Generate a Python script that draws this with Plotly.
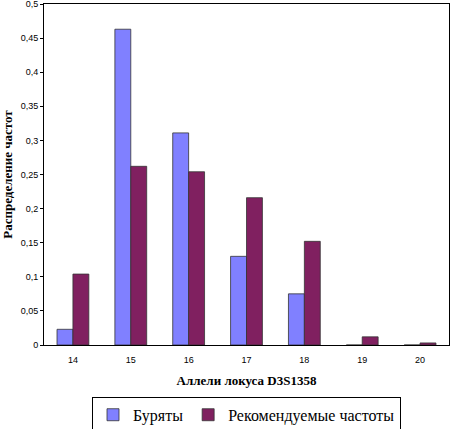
import plotly.graph_objects as go

categories = ["14", "15", "16", "17", "18", "19", "20"]
buryats = [0.023, 0.463, 0.311, 0.130, 0.075, 0, 0]
recommended = [0.104, 0.262, 0.254, 0.216, 0.152, 0.012, 0.003]
y_ticks = [0, 0.05, 0.1, 0.15, 0.2, 0.25, 0.3, 0.35, 0.4, 0.45, 0.5]
y_tick_labels = ["0", "0,05", "0,1", "0,15", "0,2", "0,25", "0,3", "0,35", "0,4", "0,45", "0,5"]

SERIF = "'Times New Roman', 'Liberation Serif', 'DejaVu Serif', serif"
SANS = "Arial, 'Liberation Sans', sans-serif"

fig = go.Figure()
fig.add_trace(go.Bar(x=categories, y=buryats, name="Буряты",
                     marker=dict(color="#8080FF", line=dict(color="#333333", width=0.8))))
fig.add_trace(go.Bar(x=categories, y=recommended, name="Рекомендуемые частоты",
                     marker=dict(color="#802060", line=dict(color="#333333", width=0.8))))

fig.update_layout(
    width=450, height=429,
    margin=dict(l=44, r=1, t=4, b=84, autoexpand=False),
    paper_bgcolor="white", plot_bgcolor="white",
    barmode="group", bargap=0.45, bargroupgap=0,
    showlegend=True,
    legend=dict(orientation="h", x=0.5, xanchor="center", y=-0.152, yanchor="top",
                font=dict(family=SERIF, size=16, color="black"),
                bordercolor="black", borderwidth=1, bgcolor="white",
                itemwidth=30, tracegroupgap=0),
    xaxis=dict(showline=True, linecolor="black", linewidth=1, mirror=True, automargin=False,
               ticks="", ticklabelstandoff=6, tickfont=dict(family=SANS, size=9, color="black"),
               title=dict(text="<b>Аллели локуса D3S1358</b>",
                          font=dict(family=SERIF, size=13, color="black"),
                          standoff=12)),
    yaxis=dict(range=[0, 0.5], tickmode="array", tickvals=y_ticks, ticktext=y_tick_labels,
               automargin=False, ticklabeloverflow="allow",
               showline=True, linecolor="black", linewidth=1, mirror=True,
               ticks="outside", ticklen=3, tickcolor="black", showgrid=False, zeroline=False,
               tickfont=dict(family=SANS, size=9, color="black"),
               title=dict(text="<b>Распределение частот</b>",
                          font=dict(family=SERIF, size=13, color="black"),
                          standoff=8)),
)

fig.write_html("out.html", config={"displayModeBar": False},
               post_script="document.body.style.margin='0';document.body.style.overflow='hidden';")
